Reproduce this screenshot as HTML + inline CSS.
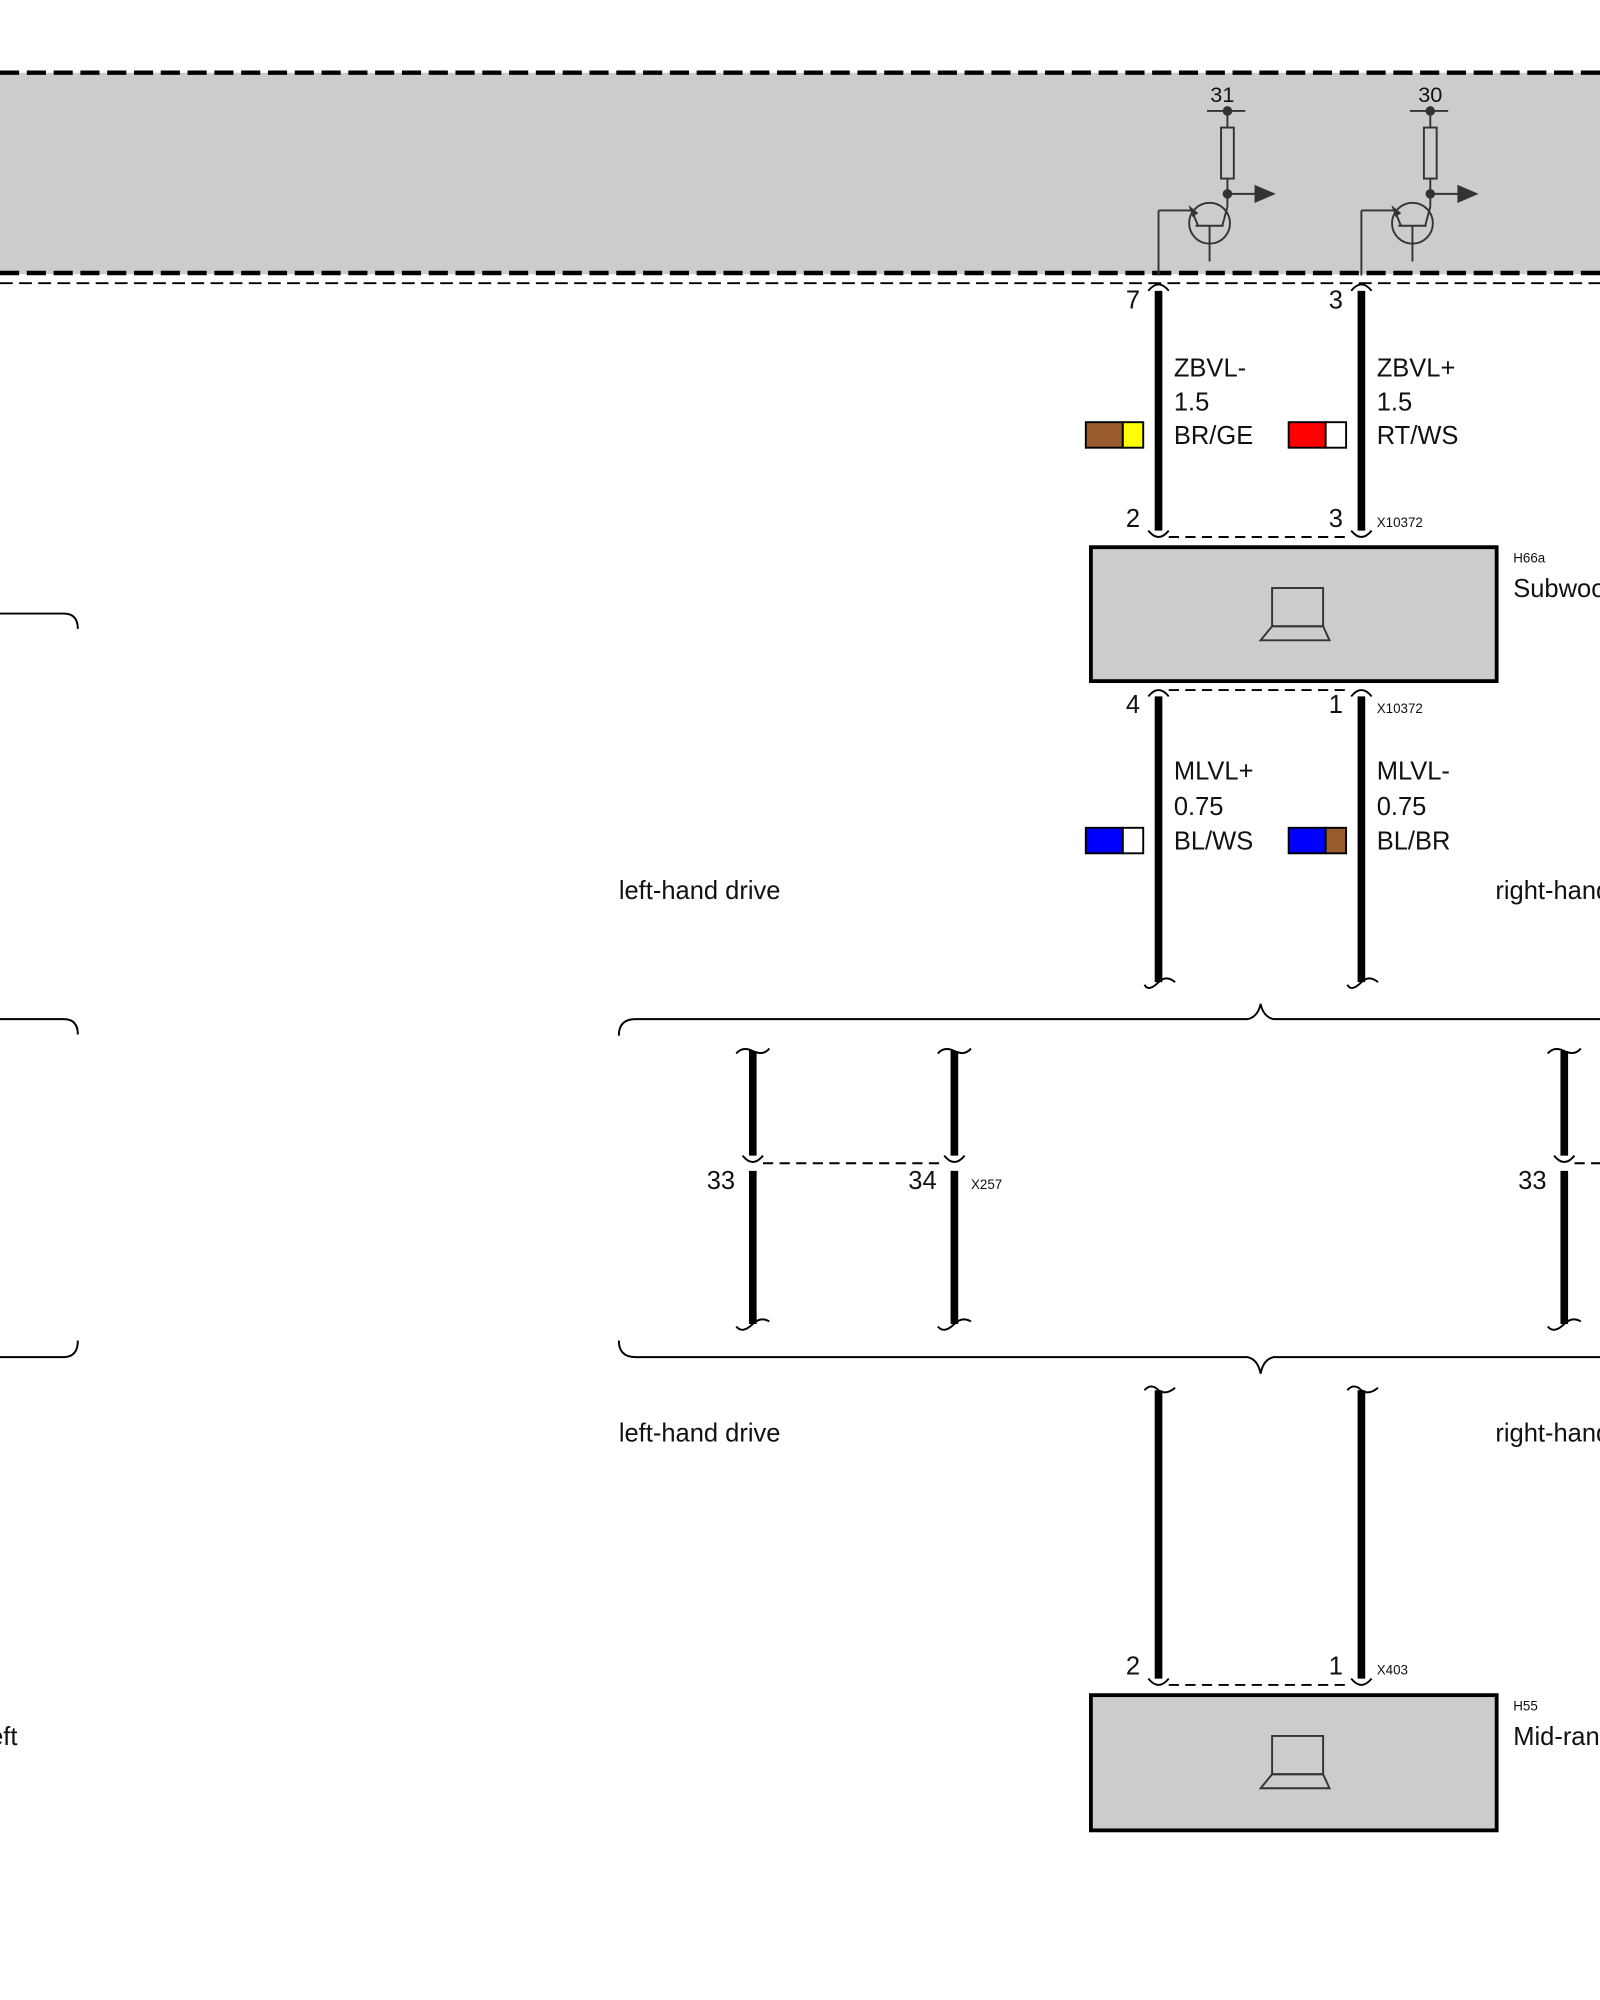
<!DOCTYPE html>
<html><head><meta charset="utf-8"><style>html,body{margin:0;padding:0;background:#fff}svg{display:block}text{font-family:"Liberation Sans",sans-serif;fill:#111}</style></head><body>
<svg width="1600" height="2000" viewBox="0 0 1254 1568" preserveAspectRatio="none" xmlns="http://www.w3.org/2000/svg">
<rect x="0" y="57" width="1254" height="158" fill="#cccccc"/>
<line x1="0" y1="57" x2="1254" y2="57" stroke="#000" stroke-width="3.5" stroke-dasharray="15,6"/>
<line x1="0" y1="214" x2="1254" y2="214" stroke="#000" stroke-width="3.5" stroke-dasharray="15,6"/>
<line x1="0" y1="222" x2="1254" y2="222" stroke="#000" stroke-width="1.5" stroke-dasharray="10,5"/>
<g id="tr" stroke="#333" stroke-width="1.5" fill="none">
<line x1="946" y1="87" x2="976" y2="87"/><line x1="962" y1="87" x2="962" y2="100"/>
<rect x="957" y="100" width="10" height="40"/><line x1="962" y1="140" x2="962" y2="162"/>
<line x1="962" y1="152" x2="985" y2="152"/><polygon points="984,146 998,152 984,158" fill="#333"/>
<circle cx="962" cy="87" r="3" fill="#333"/><circle cx="962" cy="152" r="3" fill="#333"/>
<circle cx="948" cy="175" r="16"/><line x1="908" y1="216" x2="908" y2="165"/><line x1="908" y1="165" x2="934" y2="165"/>
<line x1="934" y1="165" x2="939" y2="177"/><polygon points="933,163 938,167 935,169" fill="#333"/>
<line x1="937" y1="177" x2="959" y2="177"/><line x1="958" y1="177" x2="962" y2="162"/>
<line x1="948" y1="177" x2="948" y2="205"/>
</g>
<text x="958" y="80" font-size="17" text-anchor="middle">31</text>
<use href="#tr" transform="translate(159,0)"/>
<text x="1121" y="80" font-size="17" text-anchor="middle">30</text>
<g stroke="#000" stroke-width="6">
<line x1="908" y1="228" x2="908" y2="416"/><line x1="1067" y1="228" x2="1067" y2="416"/>
<line x1="908" y1="546" x2="908" y2="770"/><line x1="1067" y1="546" x2="1067" y2="770"/>
<line x1="590" y1="824" x2="590" y2="906"/><line x1="748" y1="824" x2="748" y2="906"/>
<line x1="590" y1="918" x2="590" y2="1038"/><line x1="748" y1="918" x2="748" y2="1038"/>
<line x1="1226" y1="824" x2="1226" y2="906"/><line x1="1226" y1="918" x2="1226" y2="1038"/>
<line x1="908" y1="1090" x2="908" y2="1316"/><line x1="1067" y1="1090" x2="1067" y2="1316"/>
</g>
<g stroke="#000" stroke-width="1.5" fill="none">
<path d="M900,228 Q908,218 916,228"/><path d="M1059,228 Q1067,218 1075,228"/>
<path d="M900,416 Q908,426 916,416 M1059,416 Q1067,426 1075,416"/>
<line x1="916" y1="421" x2="1059" y2="421" stroke-dasharray="8,5"/>
<path d="M900,546 Q908,536 916,546 M1059,546 Q1067,536 1075,546"/>
<line x1="916" y1="541" x2="1059" y2="541" stroke-dasharray="8,5"/>
<path d="M582,906 Q590,916 598,906 M740,906 Q748,916 756,906 M1218,906 Q1226,916 1234,906"/>
<line x1="598" y1="912" x2="740" y2="912" stroke-dasharray="8,5"/><line x1="1234" y1="912" x2="1254" y2="912" stroke-dasharray="8,5"/>
<path d="M900,1316 Q908,1326 916,1316 M1059,1316 Q1067,1326 1075,1316"/>
<line x1="916" y1="1321" x2="1059" y2="1321" stroke-dasharray="8,5"/>
<path d="M897,772 Q900,778 908,770 Q914,764 921,770 M1056,772 Q1059,778 1067,770 Q1073,764 1080,770"/>
<path d="M577,826 Q582,820 590,824 Q598,828 603,822 M735,826 Q740,820 748,824 Q756,828 761,822 M1213,826 Q1218,820 1226,824 Q1234,828 1239,822"/>
<path d="M577,1040 Q582,1046 590,1038 Q596,1032 603,1036 M735,1040 Q740,1046 748,1038 Q754,1032 761,1036 M1213,1040 Q1218,1046 1226,1038 Q1232,1032 1239,1036"/>
<path d="M897,1090 Q902,1084 908,1090 Q914,1094 921,1088 M1056,1090 Q1061,1084 1067,1090 Q1073,1094 1080,1088"/>
<path d="M485,812 Q485,799 498,799 L978,799 Q986,797 988,787 Q990,797 998,799 L1254,799"/>
<path d="M485,1051 Q485,1064 498,1064 L978,1064 Q986,1066 988,1077 Q990,1066 998,1064 L1254,1064"/>
<path d="M0,481 L50,481 Q61,481 61,493 M0,799 L50,799 Q61,799 61,811 M0,1064 L50,1064 Q61,1064 61,1051"/>
</g>
<rect x="855" y="429" width="318" height="105" fill="#cccccc" stroke="#000" stroke-width="3"/>
<rect x="855" y="1329" width="318" height="106" fill="#cccccc" stroke="#000" stroke-width="3"/>
<g stroke="#333" stroke-width="1.5" fill="none">
<rect x="997" y="461" width="40" height="30"/><polygon points="997,491 1037,491 1042,502 988,502"/>
<rect x="997" y="1361" width="40" height="30"/><polygon points="997,1391 1037,1391 1042,1402 988,1402"/>
</g>
<g stroke="#000" stroke-width="1.5">
<rect x="851" y="331" width="29" height="20" fill="#9a5c2e"/><rect x="880" y="331" width="16" height="20" fill="#ffff00"/>
<rect x="1010" y="331" width="29" height="20" fill="#ff0000"/><rect x="1039" y="331" width="16" height="20" fill="#fff"/>
<rect x="851" y="649" width="29" height="20" fill="#0000ff"/><rect x="880" y="649" width="16" height="20" fill="#fff"/>
<rect x="1010" y="649" width="29" height="20" fill="#0000ff"/><rect x="1039" y="649" width="16" height="20" fill="#9a5c2e"/>
</g>
<g font-size="20">
<text x="888" y="242" text-anchor="middle">7</text><text x="1047" y="242" text-anchor="middle">3</text>
<text x="888" y="413" text-anchor="middle">2</text><text x="1047" y="413" text-anchor="middle">3</text>
<text x="888" y="559" text-anchor="middle">4</text><text x="1047" y="559" text-anchor="middle">1</text>
<text x="888" y="1313" text-anchor="middle">2</text><text x="1047" y="1313" text-anchor="middle">1</text>
<text x="565" y="932" text-anchor="middle">33</text><text x="723" y="932" text-anchor="middle">34</text><text x="1201" y="932" text-anchor="middle">33</text>
<text x="920" y="295">ZBVL-</text><text x="920" y="322">1.5</text><text x="920" y="348">BR/GE</text>
<text x="1079" y="295">ZBVL+</text><text x="1079" y="322">1.5</text><text x="1079" y="348">RT/WS</text>
<text x="920" y="611">MLVL+</text><text x="920" y="639">0.75</text><text x="920" y="666">BL/WS</text>
<text x="1079" y="611">MLVL-</text><text x="1079" y="639">0.75</text><text x="1079" y="666">BL/BR</text>
<text x="485" y="705">left-hand drive</text><text x="1172" y="705">right-hand drive</text>
<text x="485" y="1130">left-hand drive</text><text x="1172" y="1130">right-hand drive</text>
<text x="1186" y="468">Subwoofer</text><text x="1186" y="1368">Mid-range</text><text x="-13" y="1368">left</text>
</g>
<g font-size="10.5">
<text x="1079" y="413">X10372</text><text x="1079" y="559">X10372</text><text x="761" y="932">X257</text><text x="1079" y="1313">X403</text>
<text x="1186" y="441">H66a</text><text x="1186" y="1341">H55</text>
</g>
</svg>
</body></html>
